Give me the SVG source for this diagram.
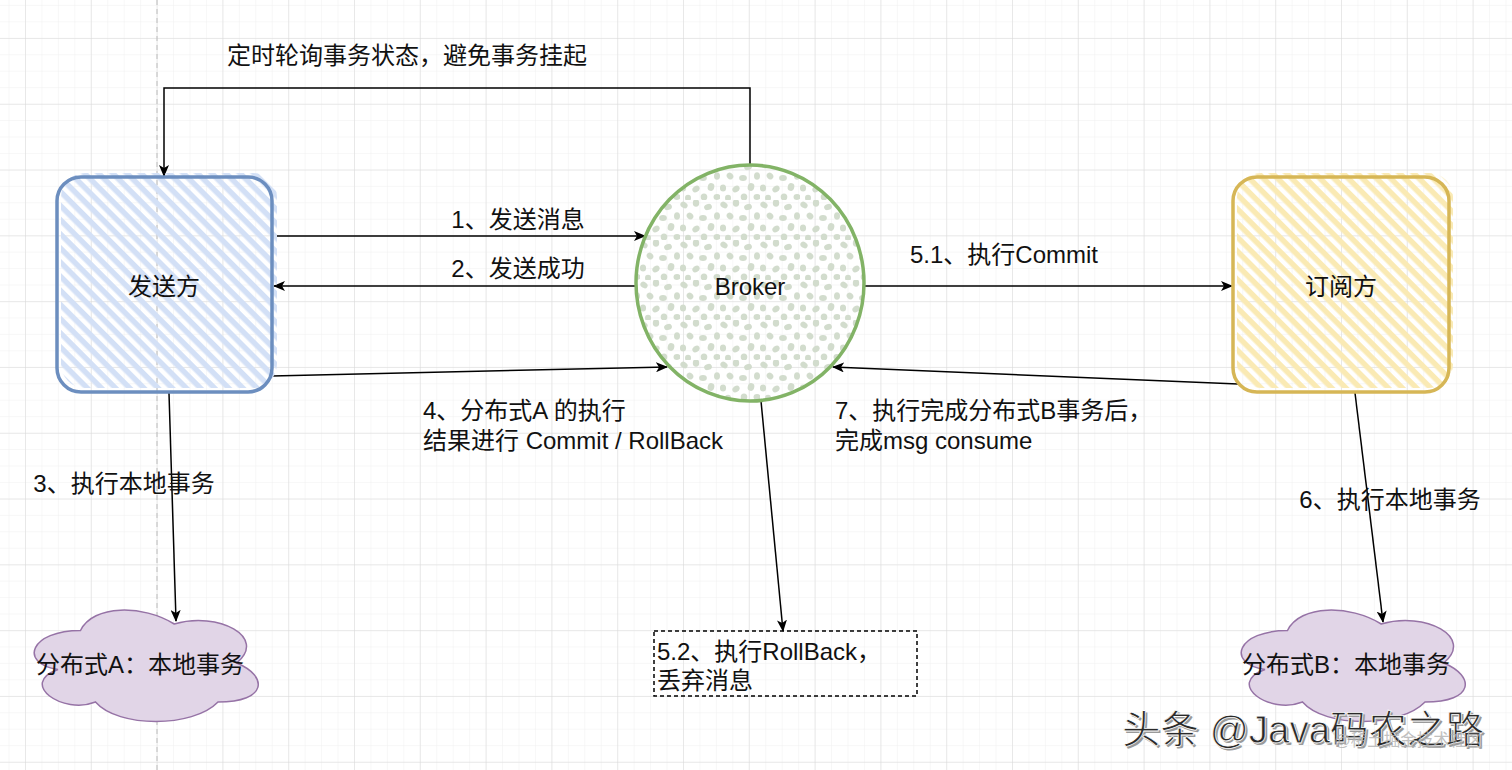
<svg xmlns="http://www.w3.org/2000/svg" width="1512" height="770" viewBox="0 0 1512 770">
<defs>
  <pattern id="gridMinor" patternUnits="userSpaceOnUse" x="8.55" y="4.9" width="16.45" height="16.45">
    <path d="M0 0 H16.45 M0 0 V16.45" fill="none" stroke="#efefef" stroke-width="1"/>
  </pattern>
  <pattern id="gridMajor" patternUnits="userSpaceOnUse" x="25" y="38" width="65.8" height="65.8">
    <path d="M0 0 H65.8 M0 0 V65.8" fill="none" stroke="#d9d9d9" stroke-width="1"/>
  </pattern>
  <pattern id="hatchBlue" patternUnits="userSpaceOnUse" width="10" height="10" patternTransform="rotate(45)">
    <rect x="0" y="0" width="10" height="5.5" fill="#d3e0f6"/>
  </pattern>
  <pattern id="hatchYellow" patternUnits="userSpaceOnUse" width="10" height="10" patternTransform="rotate(45)">
    <rect x="0" y="0" width="10" height="5.5" fill="#faeab4"/>
  </pattern>
  <pattern id="dots" patternUnits="userSpaceOnUse" width="40" height="40">
    <g fill="#d2dccd">
      <ellipse cx="4" cy="5" rx="3.8" ry="3" transform="rotate(30 4 5)"/>
      <ellipse cx="16" cy="3" rx="3.2" ry="3.8"/>
      <ellipse cx="28" cy="7" rx="4" ry="3" transform="rotate(-20 28 7)"/>
      <ellipse cx="37" cy="16" rx="3" ry="3.8"/>
      <ellipse cx="10" cy="16" rx="3.6" ry="3.1" transform="rotate(50 10 16)"/>
      <ellipse cx="23" cy="18" rx="3.9" ry="3"/>
      <ellipse cx="31" cy="27" rx="3.3" ry="4" transform="rotate(15 31 27)"/>
      <ellipse cx="3" cy="28" rx="3.1" ry="3.6"/>
      <ellipse cx="16" cy="29" rx="3.9" ry="2.9" transform="rotate(-35 16 29)"/>
      <ellipse cx="24" cy="37" rx="3.3" ry="3.5"/>
      <ellipse cx="37" cy="37" rx="3.5" ry="3"/>
      <ellipse cx="8" cy="38" rx="3" ry="3.3"/>
    </g>
  </pattern>
  <marker id="arrow" viewBox="0 0 12 10" refX="11" refY="5" markerWidth="12" markerHeight="10" markerUnits="userSpaceOnUse" orient="auto">
    <path d="M0,0 L12,5 L0,10 L3,5 Z" fill="#000"/>
  </marker>
  <style>
    .lbl { font-family: "Liberation Sans", "Noto Sans CJK SC", sans-serif; font-size: 24px; fill: #111; }
    .ctr { text-anchor: middle; }
    .edge { fill: none; stroke: #000; stroke-width: 1.5; marker-end: url(#arrow); }
    .cloud { fill: #e1d5e7; stroke: #9673a6; stroke-width: 1.5; }
    .wm { font-family: "Liberation Sans", "Noto Sans CJK SC", sans-serif; }
  </style>
</defs>

<!-- background grid -->
<rect x="0" y="0" width="1512" height="770" fill="#ffffff"/>
<rect x="0" y="0" width="1512" height="770" fill="url(#gridMinor)"/>
<rect x="0" y="0" width="1512" height="770" fill="url(#gridMajor)"/>
<line x1="157" y1="0" x2="157" y2="770" stroke="#bdbdbd" stroke-width="1" stroke-dasharray="5 4"/>

<!-- connectors -->
<g id="connectors">
  <path class="edge" d="M750 165 V88 H164 V176"/>
  <path class="edge" d="M277 236 H645"/>
  <path class="edge" d="M636 286 H274"/>
  <path class="edge" d="M272 376 L667 367"/>
  <path class="edge" d="M169 393 L176 621"/>
  <path class="edge" d="M761 401 L783 631"/>
  <path class="edge" d="M865 286 H1232"/>
  <path class="edge" d="M1238 384 L833 367"/>
  <path class="edge" d="M1355 393 L1383 622"/>
</g>

<!-- connector labels -->
<g id="edge-labels">
  <text class="lbl ctr" x="407" y="64">定时轮询事务状态，避免事务挂起</text>
  <text class="lbl ctr" x="518" y="228">1、发送消息</text>
  <text class="lbl ctr" x="518" y="277">2、发送成功</text>
  <text class="lbl" x="423" y="419">4、分布式A 的执行</text>
  <text class="lbl" x="423" y="449">结果进行 Commit / RollBack</text>
  <text class="lbl ctr" x="124" y="492">3、执行本地事务</text>
  <text class="lbl ctr" x="1004" y="263">5.1、执行Commit</text>
  <text class="lbl" x="835" y="419">7、执行完成分布式B事务后，</text>
  <text class="lbl" x="835" y="449">完成msg consume</text>
  <text class="lbl ctr" x="1390" y="508">6、执行本地事务</text>
</g>

<!-- sender -->
<g id="sender">
  <rect x="61" y="173" width="216" height="215" rx="24" fill="url(#hatchBlue)"/>
  <rect x="57" y="177" width="215" height="215" rx="24" fill="none" stroke="#6c8ebf" stroke-width="3.5"/>
  <text class="lbl ctr" x="164" y="295">发送方</text>
</g>

<!-- broker -->
<g id="broker">
  <ellipse cx="750" cy="283" rx="113" ry="117" fill="url(#dots)"/>
  <ellipse cx="750" cy="283" rx="114" ry="118" fill="none" stroke="#82b366" stroke-width="3.5"/>
  <text class="lbl ctr" x="750" y="295">Broker</text>
</g>

<!-- subscriber -->
<g id="subscriber">
  <rect x="1237" y="173" width="216" height="215" rx="24" fill="url(#hatchYellow)"/>
  <rect x="1233" y="177" width="216" height="215" rx="24" fill="none" stroke="#d6b656" stroke-width="3.5"/>
  <text class="lbl ctr" x="1341" y="295">订阅方</text>
</g>

<!-- cloud A -->
<g id="cloudA">
  <path class="cloud" transform="translate(18 598)" d="M62.5 32.5 C12.5 32.5 0 65 40 71.5 C0 85.8 45 117 77.5 104 C100 130 175 130 200 104 C250 104 250 78 218.75 65 C250 39 200 13 156.25 26 C125 6.5 75 6.5 62.5 32.5 Z"/>
  <text class="lbl ctr" x="140" y="673">分布式A：本地事务</text>
</g>

<!-- cloud B -->
<g id="cloudB">
  <path class="cloud" transform="translate(1225 598)" d="M62.5 32.5 C12.5 32.5 0 65 40 71.5 C0 85.8 45 117 77.5 104 C100 130 175 130 200 104 C250 104 250 78 218.75 65 C250 39 200 13 156.25 26 C125 6.5 75 6.5 62.5 32.5 Z"/>
  <text class="lbl ctr" x="1346" y="673">分布式B：本地事务</text>
</g>

<!-- rollback note -->
<g id="rollback">
  <rect x="654" y="631" width="263" height="65" fill="none" stroke="#000" stroke-width="1.5" stroke-dasharray="4 3"/>
  <text class="lbl" x="657" y="660">5.2、执行RollBack，</text>
  <text class="lbl" x="657" y="689">丢弃消息</text>
</g>

<!-- watermark -->
<g id="watermark">
  <text class="wm" x="1124" y="745" font-size="38.5" fill="#9a9a9a">头条 @Java码农之路</text>
  <text class="wm" x="1122" y="743" font-size="38.5" fill="#2a2a2a" stroke="#ffffff" stroke-width="0.8">头条 @Java码农之路</text>
  <text class="wm" x="1334" y="746" font-size="16.5" fill="#b0b0b0" fill-opacity="0.8">@稀土掘金技术社区</text>
</g>
</svg>
